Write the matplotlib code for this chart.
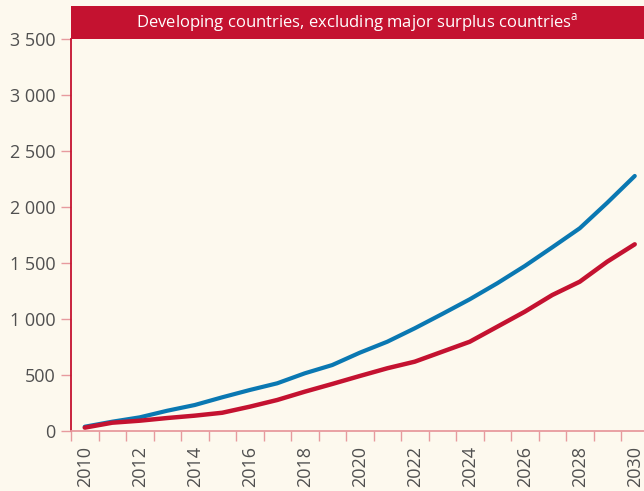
import numpy as np
import matplotlib.pyplot as plt
from matplotlib.patches import Rectangle
from matplotlib.ticker import FuncFormatter, MultipleLocator

plt.rcParams['font.family'] = ['Open Sans', 'DejaVu Sans']

# Data
years = np.arange(2010, 2031)
blue_vals = [38, 83, 122, 181, 232, 301, 366, 426, 515, 589, 699,
             797, 917, 1045, 1176, 1319, 1473, 1640, 1810, 2038, 2277]
red_vals = [30, 74, 92, 116, 137, 163, 217, 277, 351, 420, 491,
            560, 619, 708, 797, 931, 1065, 1214, 1333, 1512, 1667]
year_labels = [str(y) for y in range(2010, 2031, 2)]
header = "Developing countries, excluding major surplus countries$^{\\mathregular{a}}$"

bg = "#fdf9ee"
red = "#c41230"
blue = "#0a78b2"
pink = "#e79a9e"
grey = "#505050"

W, H = 644, 491
fig = plt.figure(figsize=(W / 100, H / 100), dpi=100, facecolor=bg)

# axes: left spine at x=71, 0 at y=431, 3500 at y=39
left, right = 71, 648.5
y0, ytop = 431, 39
ax = fig.add_axes([left / W, (H - y0) / H, (right - left) / W, (y0 - ytop) / H])
ax.set_facecolor(bg)

ax.plot(years, blue_vals, color=blue, lw=3, solid_capstyle='round')
ax.plot(years, red_vals, color=red, lw=3.2, solid_capstyle='round')

ax.set_xlim(2009.5, 2030.5)
ax.set_ylim(0, 3500)

ax.yaxis.set_major_locator(MultipleLocator(500))
ax.yaxis.set_major_formatter(FuncFormatter(lambda v, p: f"{int(v):,}".replace(",", " ")))
ax.tick_params(axis='y', length=7, width=1, color=pink, labelsize=13,
               labelcolor=grey, pad=4)

ax.set_xticks(range(2010, 2031, 2))
ax.set_xticklabels(year_labels, rotation=90)
ax.set_xticks(np.arange(2009.5, 2031, 1), minor=True)
ax.tick_params(axis='x', which='major', length=0, labelsize=13,
               labelcolor=grey, pad=11)
ax.tick_params(axis='x', which='minor', length=7, width=1, color=pink)

for s in ['top', 'right']:
    ax.spines[s].set_visible(False)
ax.spines['left'].set_color(red)
ax.spines['left'].set_linewidth(1.3)
ax.spines['bottom'].set_color(pink)
ax.spines['bottom'].set_linewidth(1.3)

# header band
band_top, band_bot = 5.7, 39
fig.patches.append(Rectangle((left / W, (H - band_bot) / H), (W - left) / W,
                             (band_bot - band_top) / H, transform=fig.transFigure,
                             facecolor=red, edgecolor='none', zorder=3))
fig.text((left + W) / 2 / W, (H - (band_top + band_bot) / 2) / H, header,
         color='white', fontsize=12, ha='center', va='center', zorder=4)

fig.savefig("out.png", dpi=100, facecolor=bg)
